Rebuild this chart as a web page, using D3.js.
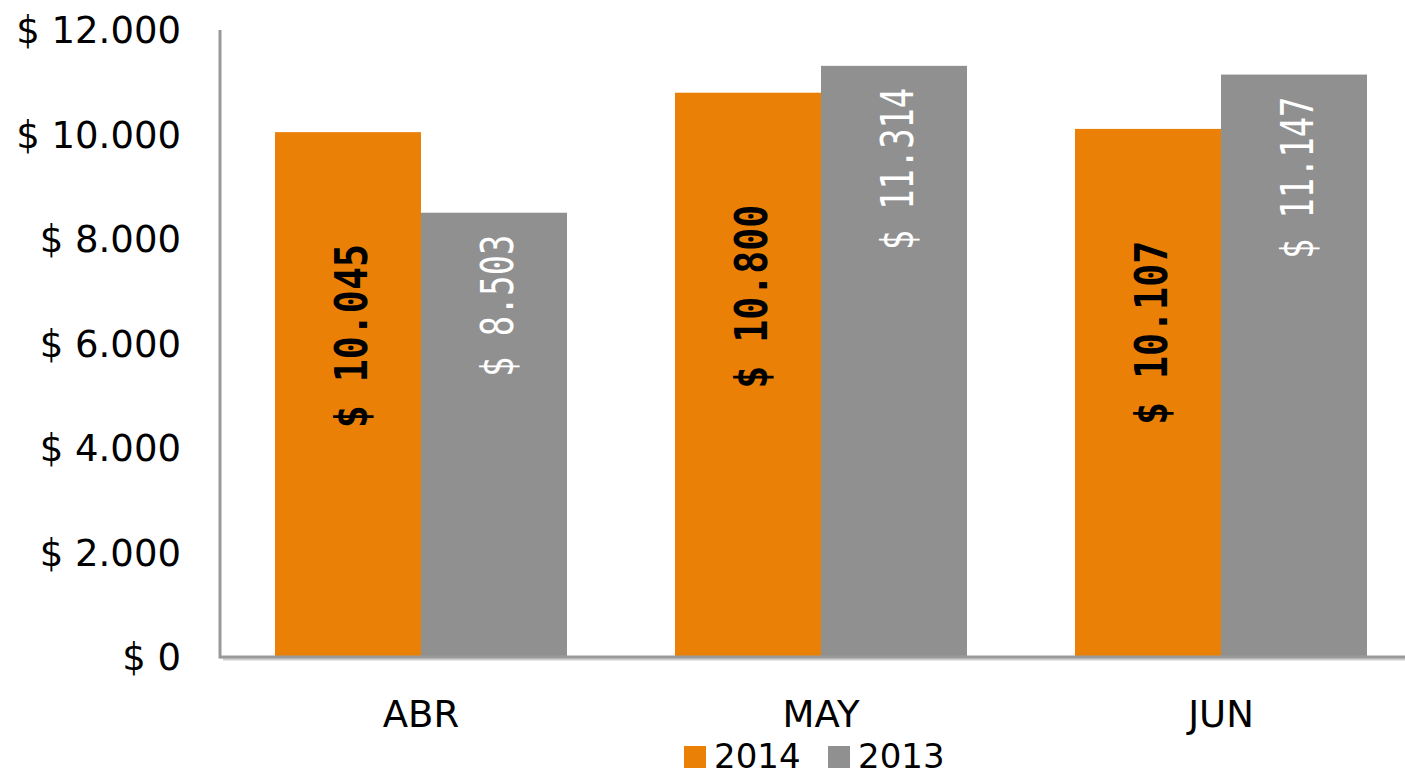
<!DOCTYPE html>
<html>
<head>
<meta charset="utf-8">
<script src="https://cdn.jsdelivr.net/npm/d3@7"></script>
<style>
  body { margin: 0; background: #fff; }
  svg { display: block; }
  .tick-label { font-family: "DejaVu Sans", sans-serif; font-size: 37px; fill: #000; }
  .legend-label { font-family: "DejaVu Sans", sans-serif; font-size: 34px; fill: #000; }
</style>
</head>
<body>
<svg class="chart"></svg>
<script>
const WIDTH = 1405;
const HEIGHT = 777;

const months = ["ABR", "MAY", "JUN"];
const series = ["2014", "2013"];
const values2014 = [10045, 10800, 10107];
const values2013 = [8503, 11314, 11147];
const yTicks = [0, 2000, 4000, 6000, 8000, 10000, 12000];

const COLORS = { "2014": "#ea8006", "2013": "#909090" };
const FMT = d => "$ " + d3.format(",")(d).replace(/,/g, ".");

let svg = d3.select(".chart").attr("width", WIDTH).attr("height", HEIGHT);

let x = d3.scaleBand().domain(months).range([221, 1421]);
let xInner = d3.scaleBand().domain(series).range([0, x.bandwidth() * 0.73]);
let y = d3.scaleLinear().domain([0, 12000]).range([657, 30]);

const groupOffset = (x.bandwidth() - xInner.range()[1]) / 2;

// y tick labels
svg.append("g")
   .selectAll("text")
   .data(yTicks)
   .join("text")
   .attr("class", "tick-label")
   .attr("x", 181)
   .attr("y", d => y(d))
   .attr("dy", "0.36em")
   .attr("text-anchor", "end")
   .text(FMT);

// bars
let rows = months.map((m, i) => ({ month: m, "2014": values2014[i], "2013": values2013[i] }));

let groups = svg.append("g")
   .selectAll("g")
   .data(rows)
   .join("g")
   .attr("transform", d => `translate(${x(d.month) + groupOffset},0)`);

groups.selectAll("rect")
      .data(d => series.map(s => ({ key: s, value: d[s] })))
      .join("rect")
      .attr("x", d => xInner(d.key))
      .attr("width", xInner.bandwidth())
      .attr("y", d => y(d.value))
      .attr("height", d => y(0) - y(d.value))
      .attr("fill", d => COLORS[d.key]);

// value labels (rotated, narrow mono look)
groups.selectAll("text")
      .data(d => series.map(s => ({ key: s, value: d[s] })))
      .join("text")
      .attr("transform", d => {
        let bold = d.key === "2014";
        let cx = xInner(d.key) + xInner.bandwidth() / 2 + 3;
        let cy = bold ? y(d.value) + 204 : y(d.value) + 22;
        return `translate(${cx},${cy}) rotate(-90) scale(${bold ? 0.85 : 0.75},1)`;
      })
      .attr("text-anchor", d => d.key === "2014" ? "middle" : "end")
      .attr("dy", "0.36em")
      .style("font-family", '"DejaVu Sans Mono", monospace')
      .style("font-size", "45px")
      .style("font-weight", d => d.key === "2014" ? "bold" : "normal")
      .attr("fill", d => d.key === "2014" ? "#000" : "#fff")
      .text(d => FMT(d.value));

// axes lines (with a soft shadow)
svg.append("line")
   .attr("x1", 223).attr("x2", WIDTH).attr("y1", y(0) + 2).attr("y2", y(0) + 2)
   .attr("stroke", "#d0d0d0").attr("stroke-width", 3);
svg.append("line")
   .attr("x1", 220).attr("x2", WIDTH).attr("y1", y(0)).attr("y2", y(0))
   .attr("stroke", "#999").attr("stroke-width", 3);
svg.append("line")
   .attr("x1", 220).attr("x2", 220).attr("y1", y(12000)).attr("y2", y(0) + 1.5)
   .attr("stroke", "#999").attr("stroke-width", 3);

// category labels
svg.append("g")
   .selectAll("text")
   .data(months)
   .join("text")
   .attr("class", "tick-label")
   .attr("x", d => x(d) + x.bandwidth() / 2)
   .attr("y", 714)
   .attr("dy", "0.36em")
   .attr("text-anchor", "middle")
   .text(d => d);

// legend
let legend = svg.append("g")
   .selectAll("g")
   .data(series)
   .join("g")
   .attr("transform", (d, i) => `translate(${684 + i * 144},746)`);

legend.append("rect")
      .attr("width", 22).attr("height", 22)
      .attr("fill", d => COLORS[d]);

legend.append("text")
      .attr("class", "legend-label")
      .attr("x", 30)
      .attr("y", 10)
      .attr("dy", "0.36em")
      .text(d => d);
</script>
</body>
</html>
